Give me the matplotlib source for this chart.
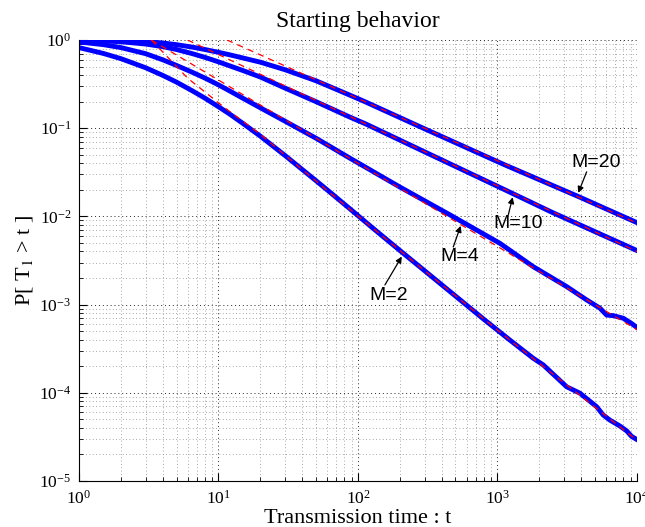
import matplotlib
matplotlib.use('Agg')
import matplotlib.pyplot as plt
from matplotlib.ticker import LogLocator, NullFormatter

plt.rcParams['font.family'] = ['Liberation Serif', 'DejaVu Serif']
plt.rcParams['mathtext.fontset'] = 'stix'

# Simulated survival curves P[T_1 > t]
t_m2 = [1, 1.5, 2, 3, 4, 5, 6.5, 8, 10, 12, 15, 20, 30, 50, 63, 88, 130, 200, 400, 800,
        1230, 1807, 2130, 3134, 3900, 5140, 5730, 6400, 7550, 8440, 9160, 10000]
p_m2 = [0.82, 0.703, 0.614, 0.485, 0.396, 0.333, 0.265, 0.219, 0.175, 0.145, 0.113,
        0.081, 0.049, 0.0254, 0.0188, 0.0121, 7.2e-3, 4.1e-3, 1.67e-3, 6.8e-4,
        3.95e-4, 2.46e-4, 2.07e-4, 1.17e-4, 9.9e-5, 6.96e-5, 5.6e-5, 4.9e-5, 4.2e-5,
        3.7e-5, 3.2e-5, 2.95e-5]

t_m4 = [1, 1.5, 2, 3, 4, 5, 6.5, 8, 10, 12, 15, 20, 30, 50, 88, 200, 457, 1042, 1807,
        3134, 4362, 5433, 6067, 6761, 7980, 9162, 10000]
p_m4 = [0.95, 0.885, 0.82, 0.70, 0.595, 0.515, 0.43, 0.37, 0.31, 0.265, 0.218, 0.17,
        0.12, 0.077, 0.0455, 0.0215, 0.0104, 4.95e-3, 2.69e-3, 1.6e-3, 1.13e-3, 9.1e-4,
        7.6e-4, 7.5e-4, 7.0e-4, 6.1e-4, 5.5e-4]

t_m10 = [1, 1.5, 2, 3, 4, 5, 6.5, 8, 10, 12, 15, 20, 30, 50, 88, 112, 300, 1132, 2500,
         10000]
p_m10 = [0.99, 0.975, 0.955, 0.90, 0.84, 0.78, 0.70, 0.635, 0.565, 0.51, 0.45, 0.38,
         0.285, 0.2, 0.133, 0.113, 0.054, 0.02, 0.011, 4.1e-3]

t_m20 = [1, 1.5, 2, 3, 4, 5, 6.5, 8, 10, 12, 15, 20, 30, 50, 88, 112, 311, 1132, 3800,
         10000]
p_m20 = [0.998, 0.993, 0.985, 0.96, 0.925, 0.885, 0.83, 0.78, 0.725, 0.68, 0.625, 0.56,
         0.46, 0.345, 0.236, 0.2, 0.096, 0.0383, 0.0168, 0.0085]

# Asymptotic approximations (red dashed)
t_asym_m2 = [3.3, 6, 11, 20, 63, 200, 1230, 10000]
p_asym_m2 = [1.0, 0.37, 0.172, 0.085, 0.0185, 4.1e-3, 3.95e-4, 2.9e-5]
t_asym_m4 = [3.3, 10000]
p_asym_m4 = [1.0, 5.2e-4]
t_asym_m10 = [6.0, 10000]
p_asym_m10 = [1.0, 4.0e-3]
t_asym_m20 = [11.5, 10000]
p_asym_m20 = [1.0, 8.4e-3]

fig = plt.figure(figsize=(6.45, 5.27), dpi=100)
ax = fig.add_axes([0.1225, 0.0873, 0.865, 0.8368])

for t, p in [(t_m2, p_m2), (t_m4, p_m4), (t_m10, p_m10), (t_m20, p_m20)]:
    ax.loglog(t, p, color='blue', linewidth=3.5, solid_joinstyle='round')

for t, p in [(t_asym_m2, p_asym_m2), (t_asym_m4, p_asym_m4),
             (t_asym_m10, p_asym_m10), (t_asym_m20, p_asym_m20)]:
    ax.loglog(t, p, color='red', linewidth=0.9, dashes=(5, 4))

ax.set_xlim(1, 1e4)
ax.set_ylim(1e-5, 1)

# matlab-like dotted grid
ax.xaxis.set_minor_locator(LogLocator(base=10, subs=range(2, 10), numticks=20))
ax.yaxis.set_minor_locator(LogLocator(base=10, subs=range(2, 10), numticks=20))
ax.xaxis.set_minor_formatter(NullFormatter())
ax.yaxis.set_minor_formatter(NullFormatter())
ax.grid(True, which='major', linestyle=(0, (1, 3)), color='0.15', linewidth=0.7)
ax.grid(True, which='minor', linestyle=(0, (1, 3)), color='0.55', linewidth=0.6)
ax.set_axisbelow(True)

for side in ['top', 'right']:
    ax.spines[side].set_visible(False)
ax.tick_params(which='both', direction='in', top=False, right=False, labelsize=12.5)
ax.tick_params(which='major', length=6)
ax.tick_params(which='minor', length=3)
ax.tick_params(axis='x', pad=6)
ax.tick_params(axis='y', pad=5.5)

ax.set_title('Starting behavior', fontsize=17, pad=9)
ax.set_xlabel('Transmission time : t', fontsize=16, labelpad=1)
ax.set_ylabel(r'P[ T$_1$ > t ]', fontsize=16, labelpad=3)

# labels with arrows
arrow_kw = dict(arrowstyle='-|>', color='black', lw=0.9, mutation_scale=9,
                shrinkA=0, shrinkB=0)
labels = [
    ('M=20', (5140, 0.041), (4360, 0.032), (3795, 0.0185)),
    ('M=10', (1410, 8.2e-3), (1196, 0.0104), (1285, 0.0165)),
    ('M=4', (538, 3.5e-3), (482, 4.5e-3), (545, 7.8e-3)),
    ('M=2', (165, 1.26e-3), (156, 1.67e-3), (206, 3.5e-3)),
]
for txt, pos, tail, head in labels:
    ax.annotate('', xy=head, xytext=tail, arrowprops=arrow_kw)
    ax.text(pos[0], pos[1], txt, fontsize=14, family='Liberation Sans',
            ha='center', va='center')

fig.savefig('out.png', dpi=100)
